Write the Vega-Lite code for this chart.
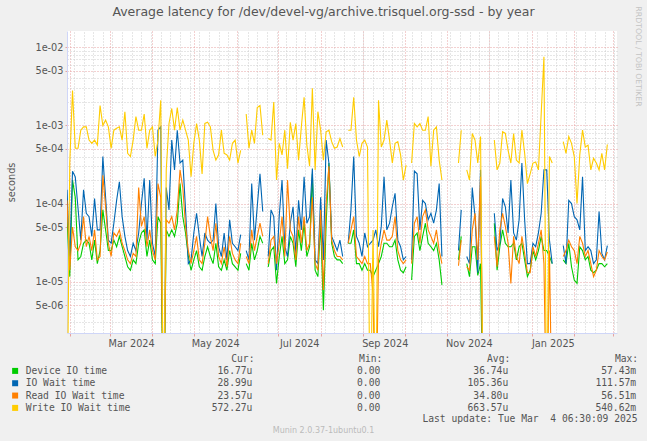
{
"$schema":"https://vega.github.io/schema/vega-lite/v6.json",
"width":550,"height":302,
"autosize":"none",
"padding":{"left":67,"top":31,"right":30,"bottom":108},
"background":"#f0f0f0",
"title":{"text":"Average latency for /dev/devel-vg/archive.trisquel.org-ssd - by year","font":"DejaVu Sans","fontSize":12.5,"fontWeight":"normal","color":"#555555","anchor":"middle","frame":"group","offset":-18.5,"baseline":"middle","dx":-18.5},
"config":{"view":{"stroke":null,"fill":"#ffffff"},"font":"DejaVu Sans"},
"data":{"values":[
{"t":"2024-01-30","dev":6.8e-5,"io":1.5e-4,"rd":1.1e-4,"wr":1e-7},
{"t":"2024-02-01","dev":1.16e-5,"io":2.1e-5,"rd":1.4e-5,"wr":3.3e-4},
{"t":"2024-02-03","dev":2.0e-4,"io":2.6e-4,"rd":5e-5,"wr":2.8e-3},
{"t":"2024-02-05","dev":1.2e-4,"io":2.2e-4,"rd":2.8e-5,"wr":5.1e-4},
{"t":"2024-02-07","dev":1.9e-5,"io":8.7e-5,"rd":2.5e-5,"wr":5.1e-4},
{"t":"2024-02-09","dev":2.1e-5,"io":3.4e-5,"rd":3.1e-5,"wr":8.7e-4},
{"t":"2024-02-11","dev":3.1e-5,"io":1.5e-4,"rd":6.8e-5,"wr":9.6e-4},
{"t":"2024-02-13","dev":3.4e-5,"io":7.5e-5,"rd":2.8e-5,"wr":9.6e-4},
{"t":"2024-02-15","dev":3.1e-5,"io":6.8e-5,"rd":3.8e-5,"wr":6.5e-4},
{"t":"2024-02-17","dev":1.9e-5,"io":3.8e-5,"rd":2.5e-5,"wr":5.9e-4},
{"t":"2024-02-19","dev":3.4e-5,"io":1.16e-4,"rd":4.6e-5,"wr":6.5e-4},
{"t":"2024-02-21","dev":1.7e-5,"io":4.6e-5,"rd":1.9e-5,"wr":5.6e-4},
{"t":"2024-02-23","dev":2.5e-5,"io":4.6e-5,"rd":2.1e-5,"wr":1.8e-3},
{"t":"2024-02-25","dev":8.3e-5,"io":4.0e-4,"rd":2.3e-4,"wr":1.0e-3},
{"t":"2024-02-27","dev":4.6e-5,"io":1.2e-4,"rd":9.1e-5,"wr":1.17e-3},
{"t":"2024-02-29","dev":2.5e-5,"io":3.4e-5,"rd":3.1e-5,"wr":9.6e-4},
{"t":"2024-03-02","dev":2.5e-5,"io":3.1e-5,"rd":2.1e-5,"wr":5.1e-4},
{"t":"2024-03-04","dev":3.4e-5,"io":5.6e-5,"rd":4.2e-5,"wr":8.7e-4},
{"t":"2024-03-06","dev":2.8e-5,"io":1.1e-4,"rd":3.8e-5,"wr":9.2e-4},
{"t":"2024-03-08","dev":3.8e-5,"io":1.9e-4,"rd":4.6e-5,"wr":9.6e-4},
{"t":"2024-03-10","dev":2.8e-5,"io":6.8e-5,"rd":3.1e-5,"wr":6.5e-4},
{"t":"2024-03-12","dev":2.1e-5,"io":3.8e-5,"rd":2.5e-5,"wr":1.5e-3},
{"t":"2024-03-14","dev":1.55e-5,"io":2.5e-5,"rd":1.9e-5,"wr":4.4e-4},
{"t":"2024-03-16","dev":1.4e-5,"io":2.1e-5,"rd":1.7e-5,"wr":4.0e-4},
{"t":"2024-03-18","dev":1.9e-5,"io":3.1e-5,"rd":2.3e-5,"wr":6.5e-4},
{"t":"2024-03-20","dev":1.7e-5,"io":2.5e-5,"rd":2.1e-5,"wr":1.3e-3},
{"t":"2024-03-22","dev":3.1e-5,"io":4.2e-5,"rd":1.6e-4,"wr":8.7e-4},
{"t":"2024-03-24","dev":4.2e-5,"io":1.0e-4,"rd":5.1e-5,"wr":8.7e-4},
{"t":"2024-03-26","dev":4.6e-5,"io":2.1e-4,"rd":6.8e-5,"wr":1.4e-3},
{"t":"2024-03-28","dev":2.1e-5,"io":3.4e-5,"rd":2.8e-5,"wr":5.1e-4},
{"t":"2024-03-30","dev":3.4e-5,"io":2.0e-4,"rd":4.6e-5,"wr":8.7e-4},
{"t":"2024-04-01","dev":1.9e-5,"io":3.1e-5,"rd":2.5e-5,"wr":9.6e-4},
{"t":"2024-04-03","dev":1.7e-5,"io":2.1e-5,"rd":1.9e-5,"wr":4.0e-4},
{"t":"2024-04-05","dev":6.8e-5,"io":8.7e-4,"rd":1.8e-4,"wr":6.5e-4},
{"t":"2024-04-07","dev":5.6e-5,"io":9.6e-4,"rd":1.2e-4,"wr":2.1e-3},
{"t":"2024-04-09","dev":1e-7,"io":1e-7,"rd":1e-7,"wr":1e-7},
{"t":"2024-04-11","dev":4.6e-5,"io":1.6e-4,"rd":6.2e-5,"wr":2.7e-4},
{"t":"2024-04-13","dev":3.8e-5,"io":8.3e-5,"rd":5.6e-5,"wr":1.06e-3},
{"t":"2024-04-15","dev":4.6e-5,"io":6.5e-4,"rd":6.8e-5,"wr":1.65e-3},
{"t":"2024-04-17","dev":3.8e-5,"io":2.7e-4,"rd":4.6e-5,"wr":8.7e-4},
{"t":"2024-04-19","dev":5.6e-5,"io":8.7e-4,"rd":8.3e-5,"wr":1.7e-3},
{"t":"2024-04-21","dev":1.8e-4,"io":3.3e-4,"rd":2.7e-4,"wr":8.7e-4},
{"t":"2024-04-23","dev":6.8e-5,"io":3.6e-4,"rd":1.6e-4,"wr":1.17e-3},
{"t":"2024-04-25","dev":4.2e-5,"io":8.3e-5,"rd":5.1e-5,"wr":8.7e-4},
{"t":"2024-04-27","dev":2.1e-5,"io":1.7e-5,"rd":2.5e-5,"wr":6.5e-4},
{"t":"2024-04-29","dev":1.4e-5,"io":1.9e-5,"rd":1.7e-5,"wr":2.2e-4},
{"t":"2024-05-01","dev":1.9e-5,"io":4.2e-5,"rd":2.5e-5,"wr":5.9e-4},
{"t":"2024-05-03","dev":2.5e-5,"io":7.5e-5,"rd":3.8e-5,"wr":1.06e-3},
{"t":"2024-05-05","dev":1.55e-5,"io":3.8e-5,"rd":1.9e-5,"wr":6.5e-4},
{"t":"2024-05-07","dev":1.4e-5,"io":2.1e-5,"rd":1.7e-5,"wr":2.4e-4},
{"t":"2024-05-09","dev":2.1e-5,"io":4.2e-5,"rd":3.1e-5,"wr":1.06e-3},
{"t":"2024-05-11","dev":2.8e-5,"io":3.4e-5,"rd":6.8e-5,"wr":1.1e-3},
{"t":"2024-05-13","dev":2.1e-5,"io":3.1e-5,"rd":3.8e-5,"wr":9.6e-4},
{"t":"2024-05-15","dev":1.7e-5,"io":3.4e-5,"rd":2.5e-5,"wr":4.8e-4},
{"t":"2024-05-17","dev":3.1e-5,"io":1.0e-4,"rd":5.6e-5,"wr":3.6e-4},
{"t":"2024-05-19","dev":1.55e-5,"io":2.8e-5,"rd":2.1e-5,"wr":4.2e-4},
{"t":"2024-05-21","dev":1.4e-5,"io":2.1e-5,"rd":1.7e-5,"wr":8.7e-4},
{"t":"2024-05-23","dev":1.9e-5,"io":4.2e-5,"rd":2.8e-5,"wr":4.4e-4},
{"t":"2024-05-25","dev":1.4e-5,"io":1.9e-5,"rd":1.55e-5,"wr":4.2e-4},
{"t":"2024-05-27","dev":2.5e-5,"io":6.2e-5,"rd":3.8e-5,"wr":3.6e-4},
{"t":"2024-05-29","dev":1.7e-5,"io":3.1e-5,"rd":2.3e-5,"wr":5.9e-4},
{"t":"2024-05-31","dev":1.55e-5,"io":2.8e-5,"rd":1.9e-5,"wr":6.5e-4},
{"t":"2024-06-02","dev":1.4e-5,"io":2.5e-5,"rd":1.7e-5,"wr":3.3e-4},
{"t":"2024-06-04","dev":2.3e-5,"io":4.0e-5,"rd":3.1e-5,"wr":4.8e-4},
{"t":"2024-06-06","dev":null,"io":null,"rd":null,"wr":null},
{"t":"2024-06-08","dev":1.7e-5,"io":2.5e-5,"rd":2.1e-5,"wr":1.4e-3},
{"t":"2024-06-10","dev":1.4e-5,"io":1.9e-5,"rd":1.7e-5,"wr":5.1e-4},
{"t":"2024-06-12","dev":3.1e-5,"io":1.8e-4,"rd":4.6e-5,"wr":8.7e-4},
{"t":"2024-06-14","dev":1.9e-5,"io":3.4e-5,"rd":2.5e-5,"wr":5.9e-4},
{"t":"2024-06-16","dev":2.5e-5,"io":9.1e-5,"rd":3.8e-5,"wr":1.7e-3},
{"t":"2024-06-18","dev":3.8e-5,"io":2.4e-4,"rd":5.6e-5,"wr":1.8e-3},
{"t":"2024-06-20","dev":3.1e-5,"io":7.9e-5,"rd":3.8e-5,"wr":7.5e-4},
{"t":"2024-06-22","dev":null,"io":null,"rd":null,"wr":null},
{"t":"2024-06-24","dev":1.55e-5,"io":2.1e-5,"rd":1.7e-5,"wr":6.8e-4},
{"t":"2024-06-26","dev":2.5e-5,"io":8.3e-5,"rd":3.4e-5,"wr":6.5e-4},
{"t":"2024-06-28","dev":2.8e-5,"io":6.8e-5,"rd":3.8e-5,"wr":2.0e-3},
{"t":"2024-06-30","dev":9.5e-6,"io":1.4e-5,"rd":1.7e-5,"wr":2.0e-4},
{"t":"2024-07-02","dev":2.1e-5,"io":7.1e-5,"rd":3.1e-5,"wr":5.9e-4},
{"t":"2024-07-04","dev":3.8e-5,"io":2.0e-4,"rd":6.8e-5,"wr":4.2e-4},
{"t":"2024-07-06","dev":1.7e-5,"io":2.8e-5,"rd":2.1e-5,"wr":8.7e-4},
{"t":"2024-07-08","dev":1.9e-5,"io":2.1e-5,"rd":2.0e-4,"wr":2.8e-4},
{"t":"2024-07-10","dev":3.8e-5,"io":5.6e-5,"rd":4.6e-5,"wr":1.1e-3},
{"t":"2024-07-12","dev":3.1e-5,"io":9.1e-5,"rd":3.8e-5,"wr":6.5e-4},
{"t":"2024-07-14","dev":1.55e-5,"io":2.3e-5,"rd":1.9e-5,"wr":1.06e-3},
{"t":"2024-07-16","dev":4.6e-5,"io":1.1e-4,"rd":6.8e-5,"wr":3.6e-4},
{"t":"2024-07-18","dev":2.5e-5,"io":4.6e-5,"rd":3.1e-5,"wr":9.6e-4},
{"t":"2024-07-20","dev":5.6e-5,"io":2.2e-4,"rd":6.8e-5,"wr":2.3e-3},
{"t":"2024-07-22","dev":2.1e-5,"io":5.6e-5,"rd":2.5e-5,"wr":5.6e-4},
{"t":"2024-07-24","dev":2.8e-5,"io":6.8e-5,"rd":3.1e-5,"wr":3.0e-4},
{"t":"2024-07-26","dev":2.4e-4,"io":2.8e-4,"rd":1.2e-4,"wr":3.0e-3},
{"t":"2024-07-28","dev":1.4e-5,"io":1.9e-5,"rd":1.7e-5,"wr":2.7e-4},
{"t":"2024-07-30","dev":1.16e-5,"io":1.7e-5,"rd":1.4e-5,"wr":1.5e-3},
{"t":"2024-08-01","dev":5.6e-5,"io":1.2e-4,"rd":8.3e-5,"wr":8.7e-4},
{"t":"2024-08-03","dev":4.3e-6,"io":1.9e-5,"rd":7.8e-6,"wr":3.6e-4},
{"t":"2024-08-05","dev":5.6e-5,"io":6.5e-4,"rd":1.0e-4,"wr":8.3e-4},
{"t":"2024-08-07","dev":3.3e-4,"io":3.3e-4,"rd":3.0e-4,"wr":8.7e-4},
{"t":"2024-08-09","dev":3.1e-5,"io":3.8e-5,"rd":3.4e-5,"wr":6.2e-4},
{"t":"2024-08-11","dev":2.1e-5,"io":3.1e-5,"rd":2.5e-5,"wr":5.1e-4},
{"t":"2024-08-13","dev":1.9e-5,"io":2.5e-5,"rd":2.1e-5,"wr":5.3e-4},
{"t":"2024-08-15","dev":1.9e-5,"io":3.4e-5,"rd":2.1e-5,"wr":6.8e-4},
{"t":"2024-08-17","dev":1.7e-5,"io":2.1e-5,"rd":1.9e-5,"wr":5.3e-4},
{"t":"2024-08-19","dev":null,"io":null,"rd":null,"wr":null},
{"t":"2024-08-21","dev":3.1e-5,"io":3.1e-5,"rd":3.1e-5,"wr":8.7e-4},
{"t":"2024-08-23","dev":3.1e-5,"io":8.3e-5,"rd":4.6e-5,"wr":8.7e-4},
{"t":"2024-08-25","dev":4.6e-5,"io":4.0e-4,"rd":6.8e-5,"wr":2.3e-3},
{"t":"2024-08-27","dev":1.7e-5,"io":3.8e-5,"rd":2.1e-5,"wr":6.5e-4},
{"t":"2024-08-29","dev":1.7e-5,"io":3.1e-5,"rd":1.9e-5,"wr":4.0e-4},
{"t":"2024-08-31","dev":1.4e-5,"io":2.1e-5,"rd":1.7e-5,"wr":5.9e-4},
{"t":"2024-09-02","dev":1.7e-5,"io":4.2e-5,"rd":2.1e-5,"wr":6.5e-4},
{"t":"2024-09-04","dev":1.4e-5,"io":2.8e-5,"rd":1.7e-5,"wr":5.3e-4},
{"t":"2024-09-06","dev":1.4e-5,"io":3.1e-5,"rd":1.7e-5,"wr":1e-7},
{"t":"2024-09-08","dev":1.16e-5,"io":3.4e-5,"rd":7.1e-6,"wr":4.6e-5},
{"t":"2024-09-10","dev":1.4e-5,"io":4.6e-5,"rd":1e-7,"wr":1e-7},
{"t":"2024-09-12","dev":1.7e-5,"io":2.8e-5,"rd":1.9e-5,"wr":2.1e-3},
{"t":"2024-09-14","dev":2.1e-5,"io":5.1e-5,"rd":3.1e-5,"wr":5.3e-4},
{"t":"2024-09-16","dev":3.1e-5,"io":2.2e-4,"rd":4.6e-5,"wr":6.5e-4},
{"t":"2024-09-18","dev":3.1e-5,"io":4.6e-5,"rd":3.4e-5,"wr":1.17e-3},
{"t":"2024-09-20","dev":2.8e-5,"io":5.6e-5,"rd":3.4e-5,"wr":6.5e-4},
{"t":"2024-09-22","dev":2.8e-5,"io":9.1e-5,"rd":3.8e-5,"wr":3.3e-4},
{"t":"2024-09-24","dev":3.4e-5,"io":1.35e-4,"rd":6.8e-5,"wr":5.9e-4},
{"t":"2024-09-26","dev":1.9e-5,"io":3.4e-5,"rd":2.5e-5,"wr":6.2e-4},
{"t":"2024-09-28","dev":1.4e-5,"io":2.8e-5,"rd":1.9e-5,"wr":4.2e-4},
{"t":"2024-09-30","dev":1.3e-5,"io":1.9e-5,"rd":1.7e-5,"wr":2.0e-4},
{"t":"2024-10-02","dev":1.55e-5,"io":2.1e-5,"rd":1.9e-5,"wr":3.1e-4},
{"t":"2024-10-04","dev":null,"io":null,"rd":null,"wr":null},
{"t":"2024-10-06","dev":1.05e-5,"io":1.9e-5,"rd":1.7e-5,"wr":3.3e-4},
{"t":"2024-10-08","dev":3.8e-5,"io":2.6e-4,"rd":5.6e-5,"wr":1.06e-3},
{"t":"2024-10-10","dev":4.2e-5,"io":2.4e-4,"rd":6.8e-5,"wr":9.6e-4},
{"t":"2024-10-12","dev":2.5e-5,"io":4.6e-5,"rd":3.1e-5,"wr":1.06e-3},
{"t":"2024-10-14","dev":3.8e-5,"io":1.1e-4,"rd":6.8e-5,"wr":8.7e-4},
{"t":"2024-10-16","dev":5.6e-5,"io":1.0e-4,"rd":8.3e-5,"wr":8.7e-4},
{"t":"2024-10-18","dev":3.1e-5,"io":6.2e-5,"rd":4.6e-5,"wr":1.3e-3},
{"t":"2024-10-20","dev":2.8e-5,"io":7.5e-5,"rd":3.8e-5,"wr":3.0e-4},
{"t":"2024-10-22","dev":2.5e-5,"io":5.6e-5,"rd":3.1e-5,"wr":8.7e-4},
{"t":"2024-10-24","dev":3.1e-5,"io":8.3e-5,"rd":4.6e-5,"wr":9.6e-4},
{"t":"2024-10-26","dev":1.9e-5,"io":1.8e-4,"rd":2.5e-5,"wr":3.6e-4},
{"t":"2024-10-28","dev":9.1e-6,"io":2.1e-5,"rd":1.7e-5,"wr":2.0e-4},
{"t":"2024-10-30","dev":null,"io":null,"rd":null,"wr":null},
{"t":"2024-11-09","dev":1.9e-5,"io":2.5e-5,"rd":1.6e-5,"wr":3.3e-4},
{"t":"2024-11-11","dev":3.8e-5,"io":8.3e-5,"rd":3.4e-5,"wr":8.7e-4},
{"t":"2024-11-13","dev":null,"io":null,"rd":null,"wr":null},
{"t":"2024-11-15","dev":1.7e-5,"io":2.1e-5,"rd":1.55e-5,"wr":2.7e-4},
{"t":"2024-11-17","dev":1.16e-5,"io":1.7e-5,"rd":1.4e-5,"wr":2.0e-4},
{"t":"2024-11-19","dev":2.8e-5,"io":1.6e-4,"rd":4.6e-5,"wr":7.9e-4},
{"t":"2024-11-21","dev":2.8e-5,"io":6.8e-5,"rd":7.5e-5,"wr":6.5e-4},
{"t":"2024-11-23","dev":1.2e-5,"io":1.3e-5,"rd":1.9e-5,"wr":3.3e-4},
{"t":"2024-11-25","dev":1.7e-5,"io":2.7e-4,"rd":2.2e-4,"wr":7.2e-4},
{"t":"2024-11-27","dev":1e-7,"io":1e-7,"rd":1e-7,"wr":1e-7},
{"t":"2024-11-29","dev":null,"io":null,"rd":null,"wr":null},
{"t":"2024-12-05","dev":5.6e-5,"io":7.5e-5,"rd":3.8e-5,"wr":6.5e-4},
{"t":"2024-12-07","dev":1.4e-5,"io":2.5e-5,"rd":1.55e-5,"wr":2.7e-4},
{"t":"2024-12-09","dev":2.8e-5,"io":3.1e-5,"rd":4.6e-5,"wr":3.3e-4},
{"t":"2024-12-11","dev":4.6e-5,"io":1.16e-4,"rd":7.5e-5,"wr":8.3e-4},
{"t":"2024-12-13","dev":3.1e-5,"io":9.1e-5,"rd":5.1e-5,"wr":7.9e-4},
{"t":"2024-12-15","dev":2.8e-5,"io":4.2e-5,"rd":3.1e-5,"wr":4.8e-4},
{"t":"2024-12-17","dev":2.8e-5,"io":2.0e-4,"rd":9.5e-6,"wr":3.3e-4},
{"t":"2024-12-19","dev":3.1e-5,"io":4.2e-5,"rd":3.8e-5,"wr":7.9e-4},
{"t":"2024-12-21","dev":1.9e-5,"io":3.4e-5,"rd":2.1e-5,"wr":3.6e-4},
{"t":"2024-12-23","dev":2.8e-5,"io":6.2e-5,"rd":1.7e-5,"wr":3.3e-4},
{"t":"2024-12-25","dev":3.1e-5,"io":3.3e-4,"rd":3.8e-5,"wr":8.7e-4},
{"t":"2024-12-27","dev":1.9e-5,"io":6.2e-5,"rd":2.3e-5,"wr":4.4e-4},
{"t":"2024-12-29","dev":1.16e-5,"io":1.7e-5,"rd":1.3e-5,"wr":1.8e-4},
{"t":"2024-12-31","dev":1.4e-5,"io":1.7e-5,"rd":1.3e-5,"wr":2.4e-4},
{"t":"2025-01-02","dev":2.5e-5,"io":3.1e-5,"rd":2.8e-5,"wr":3.3e-4},
{"t":"2025-01-04","dev":1.9e-5,"io":2.8e-5,"rd":2.1e-5,"wr":3.4e-4},
{"t":"2025-01-06","dev":2.5e-5,"io":4.2e-5,"rd":3.1e-5,"wr":2.7e-4},
{"t":"2025-01-08","dev":3.8e-5,"io":7.5e-5,"rd":4.6e-5,"wr":1.4e-3},
{"t":"2025-01-10","dev":2.5e-5,"io":2.7e-4,"rd":1.7e-5,"wr":7.6e-3},
{"t":"2025-01-12","dev":2.5e-5,"io":2.7e-4,"rd":1e-7,"wr":1e-7},
{"t":"2025-01-14","dev":2.1e-5,"io":3.4e-5,"rd":2.5e-5,"wr":4.0e-4},
{"t":"2025-01-16","dev":1.7e-5,"io":1.7e-5,"rd":1e-7,"wr":3.3e-4},
{"t":"2025-01-18","dev":null,"io":null,"rd":null,"wr":null},
{"t":"2025-01-24","dev":1.9e-5,"io":2.9e-5,"rd":2.1e-5,"wr":6.2e-4},
{"t":"2025-01-26","dev":1.7e-5,"io":1.7e-5,"rd":2.5e-5,"wr":4.4e-4},
{"t":"2025-01-28","dev":3.1e-5,"io":1.1e-4,"rd":3.4e-5,"wr":7.2e-4},
{"t":"2025-01-30","dev":1.55e-5,"io":1.0e-4,"rd":2.8e-5,"wr":5.9e-4},
{"t":"2025-02-01","dev":1.05e-5,"io":6.8e-5,"rd":2.5e-5,"wr":4.0e-4},
{"t":"2025-02-03","dev":9.5e-6,"io":6.2e-5,"rd":1.7e-5,"wr":1.0e-4},
{"t":"2025-02-05","dev":2.8e-5,"io":4.6e-5,"rd":3.8e-5,"wr":4.2e-4},
{"t":"2025-02-07","dev":2.5e-5,"io":2.2e-4,"rd":3.1e-5,"wr":8.7e-4},
{"t":"2025-02-09","dev":1.9e-5,"io":2.5e-5,"rd":2.1e-5,"wr":5.3e-4},
{"t":"2025-02-11","dev":2.1e-5,"io":2.8e-5,"rd":2.5e-5,"wr":5.6e-4},
{"t":"2025-02-13","dev":1.4e-5,"io":2.5e-5,"rd":1.7e-5,"wr":2.7e-4},
{"t":"2025-02-15","dev":1.3e-5,"io":1.7e-5,"rd":1.16e-5,"wr":3.8e-4},
{"t":"2025-02-17","dev":1.4e-5,"io":1.9e-5,"rd":1.4e-5,"wr":3.3e-4},
{"t":"2025-02-19","dev":1.7e-5,"io":7.9e-5,"rd":2.5e-5,"wr":2.7e-4},
{"t":"2025-02-21","dev":1.7e-5,"io":2.3e-5,"rd":2.1e-5,"wr":4.4e-4},
{"t":"2025-02-23","dev":1.55e-5,"io":1.9e-5,"rd":1.9e-5,"wr":2.7e-4},
{"t":"2025-02-25","dev":1.7e-5,"io":2.9e-5,"rd":2.4e-5,"wr":5.7e-4}
]},
"layer":[
{
"transform":[{"fold":["dev","io"],"as":["k","v"]}],
"mark":{"type":"line","interpolate":"linear","strokeWidth":1.1,"clip":true,"invalid":"break-paths-show-domains"},
"encoding":{
"x":{"field":"t","type":"temporal","scale":{"type":"utc","nice":false,"domain":[{"year":2024,"month":1,"date":30,"utc":true},{"year":2025,"month":3,"date":4,"utc":true}]},
"axis":{"orient":"bottom",
"values":[{"year":2024,"month":2,"date":1,"utc":true},{"year":2024,"month":3,"date":1,"utc":true},{"year":2024,"month":4,"date":1,"utc":true},{"year":2024,"month":5,"date":1,"utc":true},{"year":2024,"month":6,"date":1,"utc":true},{"year":2024,"month":7,"date":1,"utc":true},{"year":2024,"month":8,"date":1,"utc":true},{"year":2024,"month":9,"date":1,"utc":true},{"year":2024,"month":10,"date":1,"utc":true},{"year":2024,"month":11,"date":1,"utc":true},{"year":2024,"month":12,"date":1,"utc":true},{"year":2025,"month":1,"date":1,"utc":true},{"year":2025,"month":2,"date":1,"utc":true},{"year":2025,"month":3,"date":1,"utc":true},
{"year":2024,"month":3,"date":16,"hours":12,"utc":true},{"year":2024,"month":5,"date":16,"hours":12,"utc":true},{"year":2024,"month":7,"date":16,"hours":12,"utc":true},{"year":2024,"month":9,"date":16,"hours":12,"utc":true},{"year":2024,"month":11,"date":16,"hours":12,"utc":true},{"year":2025,"month":1,"date":16,"hours":12,"utc":true}],
"format":"%b %Y","labelExpr":"utcdate(datum.value)==16 ? datum.label : ''",
"labelOverlap":false,"labelFlush":false,
"labelFont":"DejaVu Sans","labelFontSize":9.72,"labelColor":"#555555","labelPadding":2,
"grid":true,"gridColor":"#e6a3a3","gridDash":[1,2],"gridWidth":1,
"gridOpacity":{"condition":{"test":"utcdate(datum.value)==16","value":0},"value":1},
"ticks":true,"tickSize":3,"tickColor":"#e6a3a3",
"tickOpacity":{"condition":{"test":"utcdate(datum.value)==16","value":0},"value":1},
"domain":true,"domainColor":"#cfd6f8",
"title":"Last update: Tue Mar\u00a0 4 06:30:09 2025","titleFont":"DejaVu Sans Mono","titleFontSize":9.67,"titleFontWeight":"normal","titleColor":"#555555",
"titleX":570,"titleY":85.5,"titleAlign":"right","titleBaseline":"middle"}},
"y":{"field":"v","type":"quantitative","scale":{"type":"log","domain":[2.2e-6,0.0162],"nice":false},
"axis":{"orient":"left","values":[0.01,0.005,0.001,0.0005,0.0001,0.00005,0.00001,0.000005],
"labelExpr":"replace(format(datum.value,'.0e'),'e-','e-0')","labelOverlap":false,
"labelFont":"DejaVu Sans","labelFontSize":9.72,"labelColor":"#555555","labelPadding":2,
"grid":true,"gridColor":"#e6a3a3","gridDash":[1,2],
"tickSize":2,"tickColor":"#e6a3a3","domainColor":"#cfd6f8",
"title":"seconds","titleFont":"DejaVu Sans","titleFontSize":9.72,"titleFontWeight":"normal","titleColor":"#555555",
"titleX":-56,"titleY":151,"titleAngle":270,"titleAlign":"center","titleBaseline":"middle"}},
"color":{"field":"k","type":"nominal",
"scale":{"domain":["dev","io","rd","wr"],"range":["#00cc00","#0066b3","#ff8000","#ffcc00"]},
"legend":{"orient":"none","legendX":-56.7,"legendY":323.1,"direction":"vertical",
"title":"\u200b\u00a0\u00a0\u00a0\u00a0\u00a0\u00a0\u00a0\u00a0\u00a0\u00a0\u00a0\u00a0\u00a0\u00a0\u00a0\u00a0\u00a0\u00a0\u00a0\u00a0\u00a0\u00a0\u00a0\u00a0\u00a0\u00a0\u00a0\u00a0\u00a0\u00a0\u00a0\u00a0\u00a0\u00a0\u00a0\u00a0\u00a0\u00a0Cur:\u00a0\u00a0\u00a0\u00a0\u00a0\u00a0\u00a0\u00a0\u00a0\u00a0\u00a0\u00a0\u00a0\u00a0\u00a0\u00a0\u00a0\u00a0Min:\u00a0\u00a0\u00a0\u00a0\u00a0\u00a0\u00a0\u00a0\u00a0\u00a0\u00a0\u00a0\u00a0\u00a0\u00a0\u00a0\u00a0\u00a0Avg:\u00a0\u00a0\u00a0\u00a0\u00a0\u00a0\u00a0\u00a0\u00a0\u00a0\u00a0\u00a0\u00a0\u00a0\u00a0\u00a0\u00a0\u00a0Max:",
"titleFont":"DejaVu Sans Mono","titleFontSize":9.67,"titleFontWeight":"normal","titleColor":"#555555","titlePadding":2.3,"titleLimit":1000,
"labelFont":"DejaVu Sans Mono","labelFontSize":9.67,"labelColor":"#555555","labelLimit":1000,"labelOffset":5.7,
"symbolType":"square","symbolSize":36,"symbolStrokeWidth":0,"rowPadding":1.33,"padding":0,
"labelExpr":"datum.value=='dev' ? pad('Device IO time',27,'\u00a0')+pad('16.77u',12,'\u00a0','left')+pad('0.00',22,'\u00a0','left')+pad('36.74u',22,'\u00a0','left')+pad('57.43m',22,'\u00a0','left') : datum.value=='io' ? pad('IO Wait time',27,'\u00a0')+pad('28.99u',12,'\u00a0','left')+pad('0.00',22,'\u00a0','left')+pad('105.36u',22,'\u00a0','left')+pad('111.57m',22,'\u00a0','left') : datum.value=='rd' ? pad('Read IO Wait time',27,'\u00a0')+pad('23.57u',12,'\u00a0','left')+pad('0.00',22,'\u00a0','left')+pad('34.80u',22,'\u00a0','left')+pad('56.51m',22,'\u00a0','left') : pad('Write IO Wait time',27,'\u00a0')+pad('572.27u',12,'\u00a0','left')+pad('0.00',22,'\u00a0','left')+pad('663.57u',22,'\u00a0','left')+pad('540.62m',22,'\u00a0','left')",
"encode":{"symbols":{"update":{"fill":{"scale":"color","field":"value"},"opacity":{"value":1}}}}}}
}
},
{
"transform":[{"fold":["rd","wr"],"as":["k","v"]}],
"mark":{"type":"line","interpolate":"linear","strokeWidth":1.1,"clip":true,"invalid":"break-paths-show-domains"},
"encoding":{
"x":{"field":"t","type":"temporal",
"axis":{"orient":"top","tickCount":{"interval":"week","step":1},"labels":false,"ticks":false,"domain":false,
"grid":true,"gridColor":"#cccccc","gridDash":[1,2],
"title":"Munin 2.0.37-1ubuntu0.1","titleFont":"DejaVu Sans","titleFontSize":8,"titleFontWeight":"normal","titleColor":"#bbbbbb",
"titleX":256,"titleY":399,"titleAlign":"center","titleBaseline":"middle"}},
"y":{"field":"v","type":"quantitative",
"axis":{"orient":"right","values":[0.009,0.008,0.007,0.006,0.004,0.003,0.002,0.0009,0.0008,0.0007,0.0006,0.0004,0.0003,0.0002,0.00009,0.00008,0.00007,0.00006,0.00004,0.00003,0.00002,0.000009,0.000008,0.000007,0.000006,0.000004,0.000003],
"labels":false,"ticks":false,"domain":false,"grid":true,"gridColor":"#cccccc","gridDash":[1,2],
"title":"RRDTOOL / TOBI OETIKER","titleFont":"DejaVu Sans","titleFontSize":7.8,"titleFontWeight":"normal","titleColor":"#c4c4c4",
"titleX":20.5,"titleY":25,"titleAngle":90,"titleAlign":"center","titleBaseline":"middle"}},
"color":{"field":"k","type":"nominal","legend":null}
}
}
],
"resolve":{"axis":{"x":"independent","y":"independent"}}
}
